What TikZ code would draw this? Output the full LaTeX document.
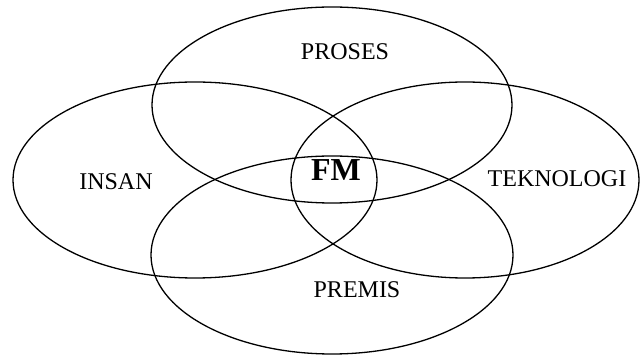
\documentclass[tikz,border=0pt]{standalone}
\usepackage{fontspec}
\setmainfont{Liberation Serif}
\begin{document}
\begin{tikzpicture}[x=1pt,y=1pt,line width=1.3pt,
    label/.style={font=\fontsize{24}{28}\selectfont},
    core/.style={font=\fontsize{32}{36}\selectfont\bfseries}]
    \useasboundingbox (0,0) rectangle (641,356);
    % Ellipses
    \draw (332,251) ellipse [x radius=180pt, y radius=98pt];
    \draw (195,176) ellipse [x radius=182pt, y radius=98pt];
    \draw (465,176) ellipse [x radius=174pt, y radius=98pt];
    \draw (332,101) ellipse [x radius=181pt, y radius=99pt];
    % Labels
    \node[label] (proses) at (345,304) {PROSES};
    \node[label] (insan) at (116,174) {INSAN};
    \node[label] (teknologi) at (557,177) {TEKNOLOGI};
    \node[label] (premis) at (357,66) {PREMIS};
    \node[core] (fm) at (336,186) {FM};
\end{tikzpicture}
\end{document}
